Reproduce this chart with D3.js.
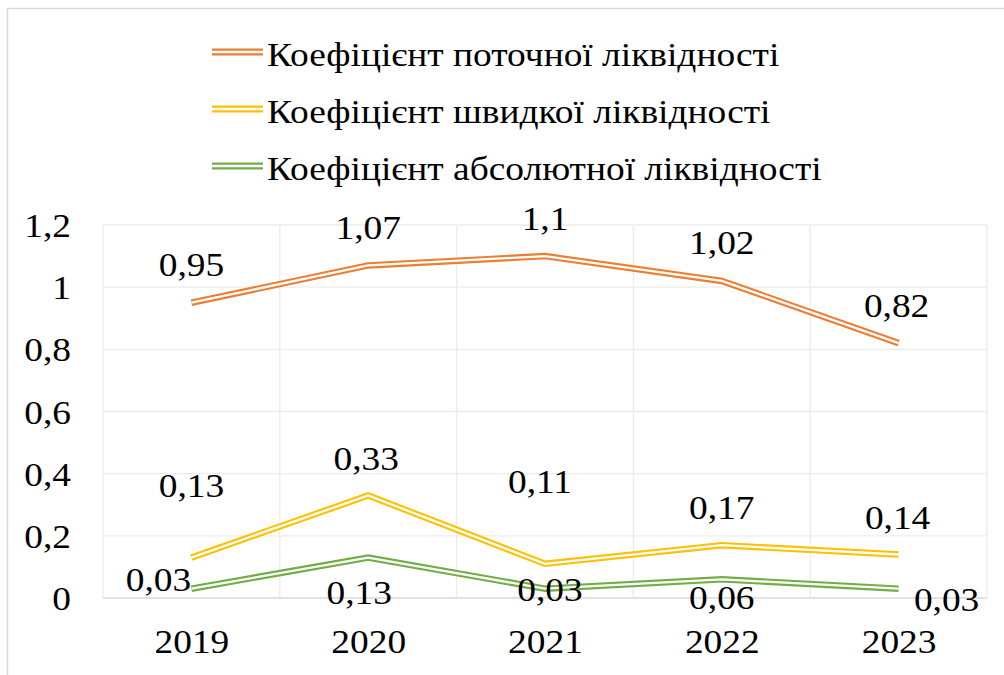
<!DOCTYPE html>
<html>
<head>
<meta charset="utf-8">
<script src="https://cdn.jsdelivr.net/npm/d3@7/dist/d3.min.js"></script>
<style>
  html, body { margin: 0; padding: 0; background: #fff; }
  svg { display: block; }
</style>
</head>
<body>
<svg id="chart" width="1004" height="675"></svg>
<script>
// Liquidity ratios by year
const years = ["2019", "2020", "2021", "2022", "2023"];
const currentRatio = [0.95, 1.07, 1.1, 1.02, 0.82];
const quickRatio = [0.13, 0.33, 0.11, 0.17, 0.14];
const absoluteRatio = [0.03, 0.13, 0.03, 0.06, 0.03];
const seriesNames = [
  "Коефіцієнт поточної ліквідності",
  "Коефіцієнт швидкої ліквідності",
  "Коефіцієнт абсолютної ліквідності"
];
const yTicks = [0, 0.2, 0.4, 0.6, 0.8, 1, 1.2];

// Label nudges (px) relative to each point, one row per series
const labelNudge = [
  [[0, -38], [0, -38], [0, -38], [0, -38], [-2, -38]],
  [[0, -72], [-2, -37], [-5, -82], [0, -38], [-1, -37]],
  [[-33, -9], [-9, 35], [5, 1], [0, 18], [48, 11]]
];

const colors = ["#ED7D31", "#FFC000", "#70AD47"];
const series = [currentRatio, quickRatio, absoluteRatio].map((vals, i) => ({
  name: seriesNames[i], color: colors[i], values: vals, nudge: labelNudge[i]
}));

const W = 1004, H = 675;
const plot = { left: 103, right: 987, top: 225, bottom: 598 };
const fs = 34, sx = 1.1;       // font size and horizontal text stretch
const FONT = "Liberation Serif";
const fmt = v => String(v).replace(".", ",");

const svg = d3.select("#chart");

// chart frame
svg.append("rect")
  .attr("x", 7.5).attr("y", 8.5)
  .attr("width", W + 20).attr("height", H + 20)
  .attr("fill", "#fff").attr("stroke", "#d9d9d9").attr("stroke-width", 1.5);

const x = d3.scalePoint().domain(years).range([plot.left, plot.right]).padding(0.5);
const band = (plot.right - plot.left) / years.length;
const y = d3.scaleLinear().domain([0, 1.2]).range([plot.bottom, plot.top]);

// horizontal gridlines
svg.append("g").selectAll("line").data(yTicks.filter(t => t > 0)).join("line")
  .attr("x1", plot.left).attr("x2", plot.right)
  .attr("y1", d => y(d)).attr("y2", d => y(d))
  .attr("stroke", "#ececec").attr("stroke-width", 1.3);

// vertical gridlines at category boundaries
svg.append("g").selectAll("line").data(d3.range(years.length + 1)).join("line")
  .attr("x1", i => plot.left + i * band).attr("x2", i => plot.left + i * band)
  .attr("y1", plot.top).attr("y2", plot.bottom)
  .attr("stroke", "#ececec").attr("stroke-width", 1.3);

// category baseline
svg.append("line")
  .attr("x1", plot.left).attr("x2", plot.right)
  .attr("y1", plot.bottom).attr("y2", plot.bottom)
  .attr("stroke", "#d9d9d9").attr("stroke-width", 1.3);

// stretched text helper
function stext(g, tx, ty, str, anchor) {
  return g.append("text")
    .attr("transform", `translate(${tx},${ty}) scale(${sx},1)`)
    .attr("text-anchor", anchor || "middle")
    .attr("font-family", FONT)
    .attr("font-size", fs)
    .attr("fill", "#000")
    .text(str);
}

// y axis
const yAxis = svg.append("g")
  .attr("transform", `translate(${plot.left},0)`)
  .call(d3.axisLeft(y).tickValues(yTicks).tickSize(0).tickPadding(0).tickFormat(fmt))
  .attr("font-family", FONT);
yAxis.select(".domain").remove();
yAxis.selectAll("text")
  .attr("font-size", fs)
  .attr("font-family", FONT)
  .attr("fill", "#000")
  .attr("x", -32 / sx)
  .attr("dy", null)
  .attr("y", 11.5)
  .attr("transform", `scale(${sx},1)`);

// x axis
const xAxis = svg.append("g")
  .attr("transform", `translate(0,${plot.bottom})`)
  .call(d3.axisBottom(x).tickSize(0).tickPadding(0))
  .attr("font-family", FONT);
xAxis.select(".domain").remove();
xAxis.selectAll("text")
  .attr("font-size", fs)
  .attr("font-family", FONT)
  .attr("fill", "#000")
  .attr("dy", null)
  .attr("y", 55)
  .attr("transform", `scale(${sx},1)`)
  .attr("x", 0);

// lines drawn as double strokes
const line = d3.line().x((d, i) => x(years[i])).y(d => y(d));
const lines = svg.append("g");
series.forEach(s => {
  lines.append("path").attr("d", line(s.values))
    .attr("fill", "none").attr("stroke", s.color).attr("stroke-width", 6.5)
    .attr("stroke-linejoin", "miter");
  lines.append("path").attr("d", line(s.values))
    .attr("fill", "none").attr("stroke", "#fff").attr("stroke-width", 2.3)
    .attr("stroke-linejoin", "miter");
});

// data labels
const labels = svg.append("g");
series.forEach(s => {
  s.values.forEach((v, i) => {
    const [dx, dy] = s.nudge[i];
    stext(labels, x(years[i]) + dx, y(v) + dy + 11.5, fmt(v));
  });
});

// legend
const legend = svg.append("g");
series.forEach((s, i) => {
  const ly = 52 + i * 57;
  legend.append("line").attr("x1", 212).attr("x2", 263).attr("y1", ly).attr("y2", ly)
    .attr("stroke", s.color).attr("stroke-width", 7);
  legend.append("line").attr("x1", 212).attr("x2", 263).attr("y1", ly).attr("y2", ly)
    .attr("stroke", "#fff").attr("stroke-width", 2.4);
  stext(legend, 267, ly + 14, s.name, "start");
});
</script>
</body>
</html>
